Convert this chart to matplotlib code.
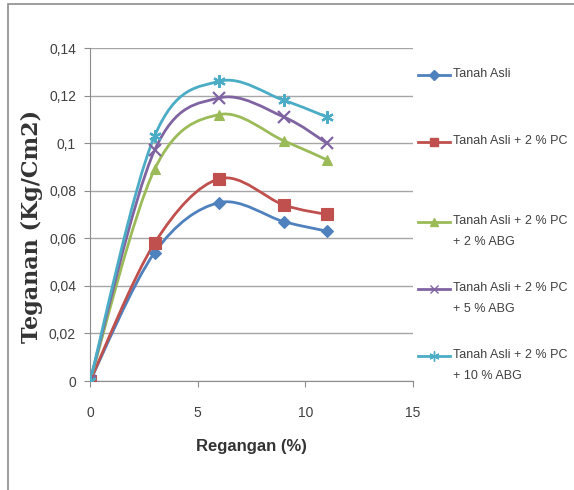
import numpy as np
import matplotlib.pyplot as plt
from matplotlib.path import Path
from matplotlib.patches import PathPatch, Rectangle
from matplotlib.lines import Line2D

# data
regangan = [0, 3, 6, 9, 11]
tanah_asli = [0, 0.054, 0.075, 0.067, 0.063]
pc2 = [0, 0.058, 0.085, 0.074, 0.070]
pc2_abg2 = [0, 0.089, 0.112, 0.101, 0.093]
pc2_abg5 = [0, 0.097, 0.119, 0.111, 0.100]
pc2_abg10 = [0, 0.103, 0.126, 0.118, 0.111]

labels = ['Tanah Asli', 'Tanah Asli + 2 % PC', 'Tanah Asli + 2 % PC\n+ 2 % ABG',
          'Tanah Asli + 2 % PC\n+ 5 % ABG', 'Tanah Asli + 2 % PC\n+ 10 % ABG']
series = [tanah_asli, pc2, pc2_abg2, pc2_abg5, pc2_abg10]
colors = ['#4F81BD', '#C0504D', '#9BBB59', '#8064A2', '#4BACC6']
markers = ['D', 's', '^', 'x', (6, 2, 0)]
msizes = [6, 8, 7.5, 8, 9]


def smooth_path(x, y):
    # excel-like smoothed line: cubic bezier through the points
    p = np.column_stack([x, y]).astype(float)
    verts = [p[0]]
    codes = [Path.MOVETO]
    n = len(p)
    for i in range(n - 1):
        prev = p[i - 1] if i > 0 else p[i]
        nxt = p[i + 2] if i + 2 < n else p[i + 1]
        c1 = p[i] + (p[i + 1] - prev) / 6
        c2 = p[i + 1] - (nxt - p[i]) / 6
        verts += [c1, c2, p[i + 1]]
        codes += [Path.CURVE4] * 3
    return Path(verts, codes)


fig = plt.figure(figsize=(5.74, 4.90), dpi=100)
fig.add_artist(Rectangle((8 / 574, -0.1), 1.0, 1 - 4 / 490 + 0.1, transform=fig.transFigure,
                         fill=False, edgecolor='#8c8c8c', linewidth=1.2))
ax = fig.add_axes([90 / 574, 1 - 381 / 490, 323 / 574, 333 / 490])

for y, c, m, ms in zip(series, colors, markers, msizes):
    ax.add_patch(PathPatch(smooth_path(regangan, y), facecolor='none', edgecolor=c,
                           linewidth=2.0, zorder=3))
    ax.plot(regangan, y, linestyle='none', marker=m, color=c, markersize=ms,
            markeredgewidth=1.6 if m in ('x', (6, 2, 0)) else 0.8, zorder=4)

ax.set_xlim(0, 15)
ax.set_ylim(0, 0.14)
ax.set_xticks([0, 5, 10, 15])
ax.set_yticks(np.arange(0, 0.141, 0.02))
ax.set_yticklabels(['0', '0,02', '0,04', '0,06', '0,08', '0,1', '0,12', '0,14'])
ax.grid(axis='y', color='#a6a6a6', linewidth=1)
ax.set_axisbelow(True)
for s in ['top', 'right']:
    ax.spines[s].set_visible(False)
for s in ['left', 'bottom']:
    ax.spines[s].set_color('#8c8c8c')
ax.tick_params(colors='#8c8c8c', labelcolor='#404040', labelsize=10, length=4)
ax.tick_params(axis='x', pad=14)
ax.tick_params(axis='y', pad=6)
for t in ax.get_xticklabels() + ax.get_yticklabels():
    t.set_fontfamily('Liberation Sans')

ax.set_ylabel('Teganan (Kg/Cm2)', fontfamily='DejaVu Serif', fontweight='bold',
              fontsize=16, color='#333333')
ax.yaxis.set_label_coords(-0.145, 0.465)
ax.set_xlabel('Regangan (%)', fontfamily='Liberation Sans', fontweight='bold',
              fontsize=12, color='#333333', labelpad=14)

# legend drawn by hand to match the spacing
leg_y = [75, 142, 222, 289, 356]
for lab, c, m, ms, yy in zip(labels, colors, markers, msizes, leg_y):
    yf = 1 - yy / 490
    fig.add_artist(Line2D([418 / 574, 450 / 574], [yf, yf], transform=fig.transFigure,
                          color=c, linewidth=2.0))
    fig.add_artist(Line2D([434 / 574], [yf], transform=fig.transFigure, color=c,
                          marker=m, markersize=ms * 0.8, linestyle='none'))
    fig.text(453 / 574, yf + 0.014, lab, fontfamily='Liberation Sans', fontsize=9,
             color='#404040', va='top', ha='left', linespacing=2.0)

fig.savefig('out.png', dpi=100)
